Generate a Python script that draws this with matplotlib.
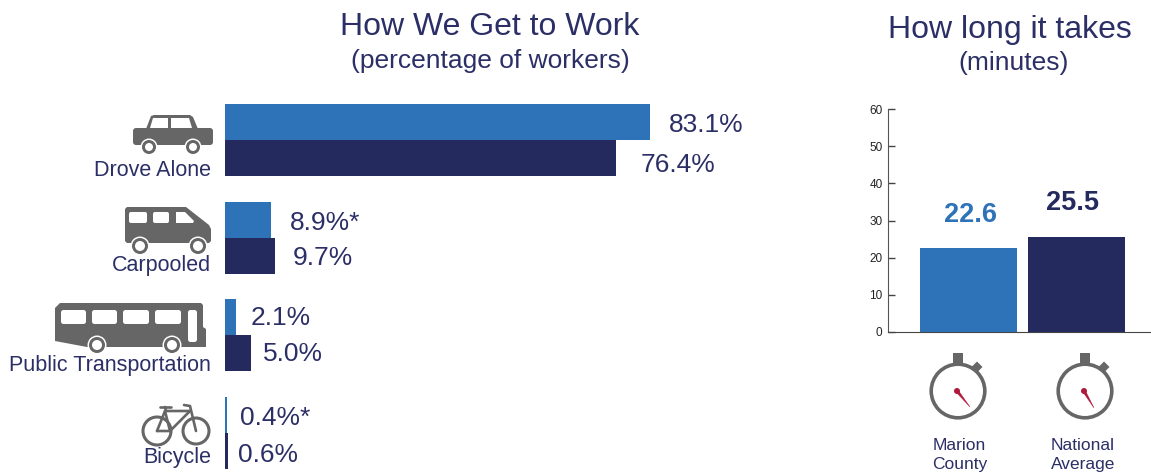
import matplotlib
matplotlib.use("Agg")
import matplotlib.pyplot as plt
from matplotlib.patches import Circle, FancyBboxPatch, Polygon, Rectangle

plt.rcParams['font.family'] = ['Liberation Sans', 'DejaVu Sans']

# data
modes = ["Drove Alone", "Carpooled", "Public Transportation", "Bicycle"]
marion_share = [83.1, 8.9, 2.1, 0.4]
national_share = [76.4, 9.7, 5.0, 0.6]
marion_labels = ["83.1%", "8.9%*", "2.1%", "0.4%*"]
national_labels = ["76.4%", "9.7%", "5.0%", "0.6%"]
places = ["Marion\nCounty", "National\nAverage"]
minutes = [22.6, 25.5]
minute_ticks = [0, 10, 20, 30, 40, 50, 60]

BLUE = "#2E72B8"
NAVY = "#252A5E"
TEXT = "#2B2F66"
GRAY = "#666666"
RED = "#B0183C"
W, H = 1151, 475


def px_axes(fig, x0, y0, x1, y1):
    # axes from pixel box, y measured from the top
    return fig.add_axes([x0 / W, 1 - y1 / H, (x1 - x0) / W, (y1 - y0) / H])


fig = plt.figure(figsize=(W / 100, H / 100), dpi=100)

# overlay in pixel coordinates for the icons and loose text
bg = fig.add_axes([0, 0, 1, 1])
bg.set_xlim(0, W)
bg.set_ylim(H, 0)
bg.axis("off")

# left chart
ax = px_axes(fig, 225, 90, 737, 475)
ax.set_xlim(0, 100)
ax.set_ylim((475 - 140) / 97.6, (90 - 140) / 97.6)
ax.axis("off")
ypos = list(range(len(modes)))
bar_h = 36 / 97.6
ax.barh([y - bar_h / 2 for y in ypos], marion_share, height=bar_h, color=BLUE)
ax.barh([y + bar_h / 2 for y in ypos], national_share, height=bar_h, color=NAVY)

# label offsets in pixels from the bar end
blue_dx = [18, 19, 15, 13]
navy_dx = [24, 18, 12, 10]
blue_dy = [-3, -3, -1, -3]
navy_dy = [-7, -2, -1, -4]
for i, y in enumerate(ypos):
    ax.annotate(marion_labels[i], (marion_share[i], y - bar_h / 2),
                xytext=(blue_dx[i], blue_dy[i]), textcoords="offset pixels",
                ha="left", va="center", fontsize=19, color=TEXT)
    ax.annotate(national_labels[i], (national_share[i], y + bar_h / 2),
                xytext=(navy_dx[i], navy_dy[i]), textcoords="offset pixels",
                ha="left", va="center", fontsize=19, color=TEXT)

label_y = [170, 266, 366, 458]
for name, y in zip(modes, label_y):
    bg.text(211, y, name, ha="right", va="center", fontsize=15.5, color=TEXT)

# titles
bg.text(490, 27, "How We Get to Work", ha="center", va="center", fontsize=23, color=TEXT)
bg.text(490, 61, "(percentage of workers)", ha="center", va="center", fontsize=19, color=TEXT)
bg.text(1010, 30, "How long it takes", ha="center", va="center", fontsize=23, color=TEXT)
bg.text(1014, 63, "(minutes)", ha="center", va="center", fontsize=19, color=TEXT)

# right chart
ax2 = px_axes(fig, 888, 109, 1151, 332)
ax2.patch.set_alpha(0)
ax2.set_xlim(-0.745, 1.69)
ax2.set_ylim(0, 60)
ax2.bar([0, 1], minutes, width=0.898, color=[BLUE, NAVY], zorder=3)
ax2.set_xticks([])
ax2.set_yticks(minute_ticks)
ax2.tick_params(axis="y", direction="in", length=5, width=1, color="#444444",
                labelsize=8.5, labelcolor="#222222", pad=4)
for side in ["top", "right"]:
    ax2.spines[side].set_visible(False)
ax2.spines["left"].set_color("#555555")
ax2.spines["bottom"].set_color("#444444")
ax2.annotate("%.1f" % minutes[0], (0, minutes[0]), xytext=(2, 33), textcoords="offset pixels",
             ha="center", va="center", fontsize=19.5, fontweight="bold", color=BLUE)
ax2.annotate("%.1f" % minutes[1], (1, minutes[1]), xytext=(-4, 34), textcoords="offset pixels",
             ha="center", va="center", fontsize=19.5, fontweight="bold", color=NAVY)

bg.text(959.5, 455, places[0], ha="center", va="center", fontsize=12.5, color=TEXT, linespacing=1.3)
bg.text(1083, 455, places[1], ha="center", va="center", fontsize=12.5, color=TEXT, linespacing=1.3)


def rbox(x0, y0, x1, y1, r, color):
    bg.add_patch(FancyBboxPatch((x0 + r, y0 + r), x1 - x0 - 2 * r, y1 - y0 - 2 * r,
                                boxstyle="round,pad=%f,rounding_size=%f" % (r, r),
                                fc=color, ec="none"))


def wheel(x, y, r_gray, r_hole):
    bg.add_patch(Circle((x, y), r_gray + 1.5, fc="white", ec="none"))
    bg.add_patch(Circle((x, y), r_gray, fc=GRAY, ec="none"))
    bg.add_patch(Circle((x, y), r_hole, fc="white", ec="none"))


# car
rbox(133, 128, 213, 145, 3, GRAY)
bg.add_patch(Polygon([(146, 129), (151, 116), (154, 115), (190, 115), (193, 117), (198, 129)], fc=GRAY, ec="none"))
bg.add_patch(Polygon([(150, 128), (153, 118), (168, 118), (168, 128)], fc="white", ec="none"))
bg.add_patch(Polygon([(171, 128), (171, 118), (189, 118), (192, 128)], fc="white", ec="none"))
wheel(149, 147, 7, 4)
wheel(193, 147, 7, 4)

# van
bg.add_patch(Polygon([(125, 209), (127, 207), (186, 207), (209, 225), (211, 229), (211, 241), (209, 243), (127, 243), (125, 241)],
                     fc=GRAY, ec="none"))
rbox(129, 212, 147, 223, 2, "white")
rbox(153, 212, 169, 223, 2, "white")
bg.add_patch(Polygon([(176, 212), (185, 212), (194, 221), (193, 223), (176, 223)], fc="white", ec="none"))
wheel(140, 246, 8, 5)
wheel(198, 246, 8, 5)

# bus
bg.add_patch(Polygon([(55, 341), (55, 308), (60, 303), (201, 303), (203, 305), (203, 327), (206, 329), (206, 347), (87, 347)],
                     fc=GRAY, ec="none"))
for x0, x1 in [(61, 86), (92, 117), (123, 149), (155, 181)]:
    rbox(x0, 310, x1, 324, 2.5, "white")
rbox(188, 310, 197, 342, 2.5, "white")
wheel(97, 345, 8, 5)
wheel(172, 345, 8, 5)

# bicycle
for cx, cy, r in [(157, 431, 14), (196, 431, 13)]:
    bg.add_patch(Circle((cx, cy), r, fc="none", ec=GRAY, lw=2.2))
frame = [[(157, 431), (165, 411), (190, 411)], [(157, 431), (170, 431), (190, 411)],
         [(165, 411), (170, 431)], [(160, 407), (171, 407)], [(165, 407), (166, 411)],
         [(184, 405), (190, 406), (196, 431)]]
for seg in frame:
    bg.plot([p[0] for p in seg], [p[1] for p in seg], color=GRAY, lw=1.9, solid_capstyle="round")
bg.set_xlim(0, W)
bg.set_ylim(H, 0)


# stopwatches
def stopwatch(cx, cy, stem_x, tip):
    bg.add_patch(Rectangle((stem_x, 353), 10, 11.5, fc=GRAY, ec="none"))
    bx, by = cx + 19, cy - 24
    bg.add_patch(Polygon([(bx, by - 5.5), (bx + 5.5, by), (bx, by + 5.5), (bx - 5.5, by)], fc=GRAY, ec="none"))
    bg.add_patch(Circle((cx, cy), 26.8, fc="white", ec=GRAY, lw=2.6))
    hub = (cx - 1, cy)
    bg.add_patch(Polygon([(hub[0] - 1.2, hub[1] + 0.8), (hub[0] + 1.2, hub[1] - 0.8), tip], fc=RED, ec=RED, lw=0.3))
    bg.add_patch(Circle(hub, 3, fc=RED, ec="none"))


stopwatch(958, 391, 953, (970, 407))
stopwatch(1085, 391, 1080, (1094, 408))

fig.savefig("out.png", dpi=100)
